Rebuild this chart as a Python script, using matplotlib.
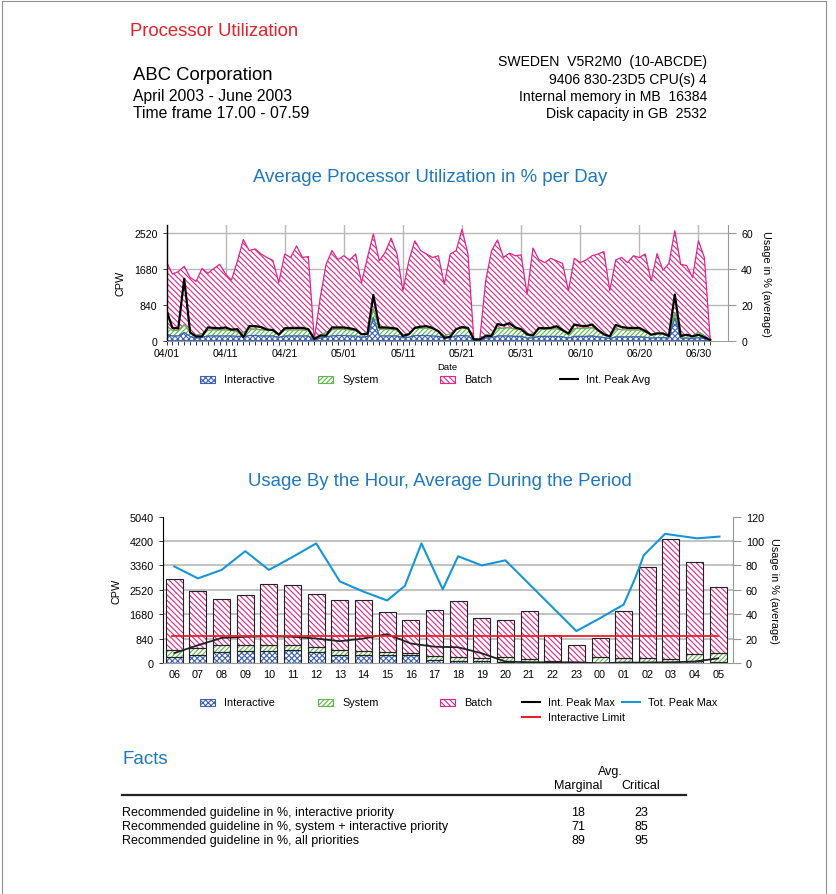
import numpy as np
import matplotlib.pyplot as plt
from matplotlib.patches import Rectangle
from matplotlib.lines import Line2D

plt.rcParams['font.family'] = ['Liberation Sans', 'DejaVu Sans']
plt.rcParams['hatch.linewidth'] = 0.8

W, H = 836, 895

# ---- daily data, 04/01 .. 07/02 (CPW) ----
interactive_day = [150, 110, 110, 190, 100, 60, 80, 110, 110, 110,
                   110, 110, 100, 100, 120, 120, 110, 110, 110, 80,
                   110, 110, 110, 110, 110, 10, 60, 90, 110, 120,
                   120, 110, 110, 80, 100, 540, 110, 110, 110, 110,
                   70, 80, 120, 120, 120, 110, 100, 60, 80, 110,
                   120, 110, 10, 10, 60, 70, 110, 110, 110, 100,
                   100, 60, 70, 100, 100, 100, 100, 90, 60, 100,
                   100, 100, 110, 90, 70, 50, 90, 90, 90, 90,
                   90, 80, 60, 70, 70, 60, 530, 60, 60, 50,
                   70, 50, 0]
system_day = [190, 130, 130, 180, 100, 60, 80, 130, 140, 140,
              140, 130, 100, 90, 150, 150, 140, 140, 130, 70,
              140, 140, 140, 140, 130, 10, 70, 100, 150, 150,
              150, 140, 130, 70, 90, 200, 160, 160, 150, 140,
              70, 80, 160, 170, 170, 170, 130, 50, 80, 160,
              180, 170, 10, 10, 70, 80, 180, 180, 190, 170,
              150, 70, 90, 170, 170, 170, 180, 140, 70, 180,
              190, 190, 190, 150, 90, 50, 180, 170, 160, 160,
              160, 120, 70, 100, 100, 60, 130, 70, 80, 60,
              130, 70, 0]
batch_day = [1510, 1320, 1380, 1370, 1280, 1270, 1530, 1340, 1440, 1540,
             1310, 1180, 1670, 2180, 1840, 1880, 1780, 1700, 1640, 1210,
             1780, 1700, 1970, 1700, 1730, 10, 870, 1600, 1850, 1630,
             1720, 1640, 1790, 1210, 1760, 1760, 1600, 1800, 2140, 1780,
             1030, 1710, 2060, 1820, 1740, 1670, 1760, 1210, 1870, 1840,
             2310, 1750, 10, 10, 1270, 1960, 2070, 1660, 1750, 1720,
             1760, 960, 2010, 1630, 1560, 1660, 1590, 1580, 1040, 1650,
             1540, 1600, 1690, 1790, 1930, 1070, 1620, 1690, 1580, 1740,
             1700, 1830, 1270, 1870, 1480, 1690, 1920, 1660, 1620, 1370,
             2140, 1830, 0]
int_peak_avg = [710, 300, 290, 1450, 190, 100, 100, 310, 300, 290,
                310, 260, 270, 80, 340, 340, 320, 260, 250, 140,
                290, 300, 300, 300, 270, 40, 120, 120, 310, 310,
                310, 290, 260, 150, 160, 1070, 310, 310, 300, 280,
                110, 150, 300, 330, 340, 300, 220, 70, 90, 270,
                320, 300, 30, 30, 110, 110, 390, 360, 410, 310,
                270, 150, 120, 300, 290, 300, 340, 250, 170, 380,
                350, 340, 380, 250, 150, 100, 370, 320, 300, 300,
                300, 230, 140, 170, 170, 110, 1080, 110, 140, 100,
                140, 80, 20]
day_ticks = ["04/01", "04/11", "04/21", "05/01", "05/11",
             "05/21", "05/31", "06/10", "06/20", "06/30"]

# ---- hourly data (CPW) ----
hours = ["06", "07", "08", "09", "10", "11", "12", "13", "14", "15", "16", "17",
         "18", "19", "20", "21", "22", "23", "00", "01", "02", "03", "04", "05"]
interactive_hr = [210, 290, 380, 410, 410, 470, 380, 300, 270, 270, 270, 120,
                  90, 90, 60, 60, 20, 20, 20, 40, 40, 20, 90, 60]
system_hr = [230, 230, 260, 230, 210, 170, 180, 160, 150, 110, 80, 140,
             140, 80, 140, 90, 70, 40, 190, 130, 130, 120, 220, 290]
batch_hr = [2450, 1960, 1580, 1720, 2100, 2040, 1830, 1700, 1760, 1390, 1140, 1560,
            1900, 1380, 1270, 1660, 870, 560, 670, 1640, 3140, 4120, 3170, 2280]
int_peak_max = [350, 620, 870, 910, 930, 910, 850, 760, 850, 1000, 680, 570,
                550, 345, 60, 35, 35, 35, 0, 25, 25, 35, 60, 170]
tot_peak_pos = [0, 1, 2, 3, 4, 5, 6, 7, 8, 9, 9.75, 10.45, 11.35, 12, 13, 14,
                17, 18, 19, 19.5, 19.85, 20.75, 22.1, 23.05]
tot_peak_max = [3325, 2915, 3206, 3850, 3206, 3650, 4116, 2810, 2460, 2156, 2660, 4116,
                2541, 3675, 3360, 3535, 1106, 1550, 2016, 2950, 3710, 4445, 4290, 4350]
interactive_limit = 930

# ---- facts ----
fact_labels = ["Recommended guideline in %, interactive priority",
               "Recommended guideline in %, system + interactive priority",
               "Recommended guideline in %, all priorities"]
marginal = [18, 71, 89]
critical = [23, 85, 95]

PINK = '#e0248a'
GREEN = '#5db94a'
BLUE = '#3b62b5'
LBLUE = '#1596d8'
RED = '#e8202a'
TITLE = '#1f78bf'
GRID = '#b8b8b8'
H_PINK = '\\' * 6
H_GREEN = '/' * 7
H_CROSS = 'x' * 6

fig = plt.figure(figsize=(W / 100, H / 100), dpi=100)


def fx(x):
    return x / W


def fy(y):
    return 1 - y / H


def ftext(x, y, s, **kw):
    kw.setdefault('va', 'center')
    fig.text(fx(x), fy(y), s, **kw)


# frame
for xs, ys in [([2, 2], [2, 895]), ([2, 826], [2, 2]), ([826, 826], [2, 895])]:
    fig.add_artist(Line2D([fx(v) for v in xs], [fy(v) for v in ys], color='#909090', lw=0.8))

# header
ftext(130, 32, "Processor Utilization", color=RED, fontsize=13.3)
ftext(133, 76, "ABC Corporation", fontsize=13.3)
ftext(133, 96, "April 2003 - June 2003", fontsize=11.3)
ftext(133, 114, "Time frame 17.00 - 07.59", fontsize=11.3)
right_block = ["SWEDEN  V5R2M0  (10-ABCDE)", "9406 830-23D5 CPU(s) 4",
               "Internal memory in MB  16384", "Disk capacity in GB  2532"]
for y, s in zip([62, 80, 97, 114], right_block):
    ftext(707, y, s, fontsize=10.1, ha='right')

# ================= daily chart =================
ftext(430, 178, "Average Processor Utilization in % per Day", color=TITLE,
      fontsize=13.4, ha='center')
ax1 = fig.add_axes([fx(166.5), fy(341.7), (728 - 166.5) / W, (341.7 - 226) / H])
days = np.arange(len(batch_day))
lvl1 = np.array(interactive_day)
lvl2 = lvl1 + np.array(system_day)
lvl3 = lvl2 + np.array(batch_day)
for y in [840, 1680, 2520]:
    ax1.axhline(y, color=GRID, lw=1, zorder=0)
for d in range(10, 91, 10):
    ax1.axvline(d, color=GRID, lw=1, zorder=0)
ax1.fill_between(days, lvl2, lvl3, facecolor='white', edgecolor=PINK,
                 hatch=H_PINK, lw=0.9, zorder=2)
ax1.fill_between(days, lvl1, lvl2, facecolor='white', edgecolor=GREEN,
                 hatch=H_GREEN, lw=0.9, zorder=2)
ax1.fill_between(days, 0, lvl1, facecolor='white', edgecolor=BLUE,
                 hatch=H_CROSS, lw=0.9, zorder=2)
ax1.plot(days, int_peak_avg, color='black', lw=1.6, zorder=4)
ax1.set_xlim(0, 95)
ax1.set_ylim(0, 2710)
ax1.set_yticks([0, 840, 1680, 2520])
ax1.set_xticks(range(0, 91, 10))
ax1.set_xticklabels(day_ticks)
ax1.set_xticks(days, minor=True)
ax1.tick_params(axis='both', labelsize=7.6, length=3, width=0.7, color='#333333')
ax1.tick_params(axis='x', which='minor', length=3, width=0.7, color='#333333')
ax1.tick_params(axis='x', pad=2)
for s in ['top', 'right']:
    ax1.spines[s].set_visible(False)
ax1.spines['left'].set_linewidth(1)
ax1.spines['bottom'].set_color('#999999')
ax1.spines['bottom'].set_linewidth(0.7)
ax1.set_ylabel("CPW", fontsize=7.8, labelpad=6)
ax1.set_xlabel("Date", fontsize=6.8, labelpad=3)
ax1r = ax1.twinx()
ax1r.set_ylim(0, 2710 / 42)
ax1r.set_yticks([0, 20, 40, 60])
ax1r.tick_params(labelsize=7.6, length=6, width=0.8, color='#999999')
for s in ['top', 'left', 'bottom']:
    ax1r.spines[s].set_visible(False)
ax1r.spines['right'].set_color('#999999')
ax1r.set_ylabel("Usage in % (average)", fontsize=7.8, rotation=270, labelpad=13)


def legend_box(x, y, hatch, color, label):
    fig.add_artist(Rectangle((fx(x), fy(y + 3.5)), 15 / W, 7 / H, transform=fig.transFigure,
                             facecolor='white', edgecolor=color, hatch=hatch, lw=0.8))
    ftext(x + 24, y, label, fontsize=7.8)


def legend_line(x, y, color, label):
    fig.add_artist(Line2D([fx(x), fx(x + 18)], [fy(y), fy(y)], color=color, lw=1.5))
    ftext(x + 26, y, label, fontsize=7.8)


legend_box(200, 380, H_CROSS, BLUE, "Interactive")
legend_box(318, 380, H_GREEN, GREEN, "System")
legend_box(440, 380, H_PINK, PINK, "Batch")
legend_line(560, 380, 'black', "Int. Peak Avg")

# ================= hourly chart =================
ftext(440, 482, "Usage By the Hour, Average During the Period", color=TITLE,
      fontsize=13.4, ha='center')
ax2 = fig.add_axes([fx(162.7), fy(664.3), (732.7 - 162.7) / W, (664.3 - 517.5) / H])
xh = np.arange(len(hours))
b1 = np.array(interactive_hr)
b2 = np.array(system_hr)
b3 = np.array(batch_hr)
for y in [840, 1680, 2520, 3360, 4200]:
    ax2.axhline(y, color=GRID, lw=1.2, zorder=0)
bw = 0.72
for vals, base, col, hat in [(b1, 0, BLUE, H_CROSS), (b2, b1, GREEN, H_GREEN),
                             (b3, b1 + b2, PINK, H_PINK)]:
    ax2.bar(xh, vals, bw, bottom=base, color='white', edgecolor=col, hatch=hat,
            lw=0, zorder=2)
    ax2.bar(xh, vals, bw, bottom=base, fill=False, edgecolor='#222222', lw=0.8, zorder=3)
ax2.plot(xh, int_peak_max, color='#222222', lw=1.3, zorder=4)
ax2.plot([xh[0] - 0.1, xh[-1]], [interactive_limit, interactive_limit], color=RED,
         lw=1.3, zorder=4)
ax2.plot(tot_peak_pos, tot_peak_max, color=LBLUE, lw=1.5, zorder=5)
ax2.set_xlim(-0.49, 23.61)
ax2.set_ylim(0, 5040)
ax2.set_yticks(range(0, 5041, 840))
ax2.set_xticks(xh)
ax2.set_xticklabels(hours)
ax2.tick_params(axis='both', labelsize=7.8, length=3, width=0.7, color='#333333')
ax2.tick_params(axis='x', length=0, pad=4)
for s in ['top', 'right']:
    ax2.spines[s].set_visible(False)
ax2.spines['bottom'].set_color('#999999')
ax2.set_ylabel("CPW", fontsize=7.8, labelpad=6)
ax2r = ax2.twinx()
ax2r.set_ylim(0, 120)
ax2r.set_yticks(range(0, 121, 20))
ax2r.tick_params(labelsize=7.8, length=6, width=0.8, color='#999999')
for s in ['top', 'left', 'bottom']:
    ax2r.spines[s].set_visible(False)
ax2r.spines['right'].set_color('#999999')
ax2r.set_ylabel("Usage in % (average)", fontsize=7.8, rotation=270, labelpad=11)

legend_box(200, 703, H_CROSS, BLUE, "Interactive")
legend_box(318, 703, H_GREEN, GREEN, "System")
legend_box(440, 703, H_PINK, PINK, "Batch")
legend_line(522, 703, 'black', "Int. Peak Max")
legend_line(622, 703, LBLUE, "Tot. Peak Max")
legend_line(522, 718, RED, "Interactive Limit")

# ================= facts =================
ftext(122, 760, "Facts", color=TITLE, fontsize=13.5)
ftext(610, 772, "Avg.", fontsize=9, ha='center')
ftext(578, 786, "Marginal", fontsize=9, ha='center')
ftext(641, 786, "Critical", fontsize=9, ha='center')
fig.add_artist(Line2D([fx(122), fx(686)], [fy(796), fy(796)], color='#222222', lw=1.6))
for y, lab, m, c in zip([813, 827, 841], fact_labels, marginal, critical):
    ftext(122, y, lab, fontsize=9)
    ftext(578, y, str(m), fontsize=9, ha='center')
    ftext(641, y, str(c), fontsize=9, ha='center')

fig.savefig("out.png", dpi=100)
